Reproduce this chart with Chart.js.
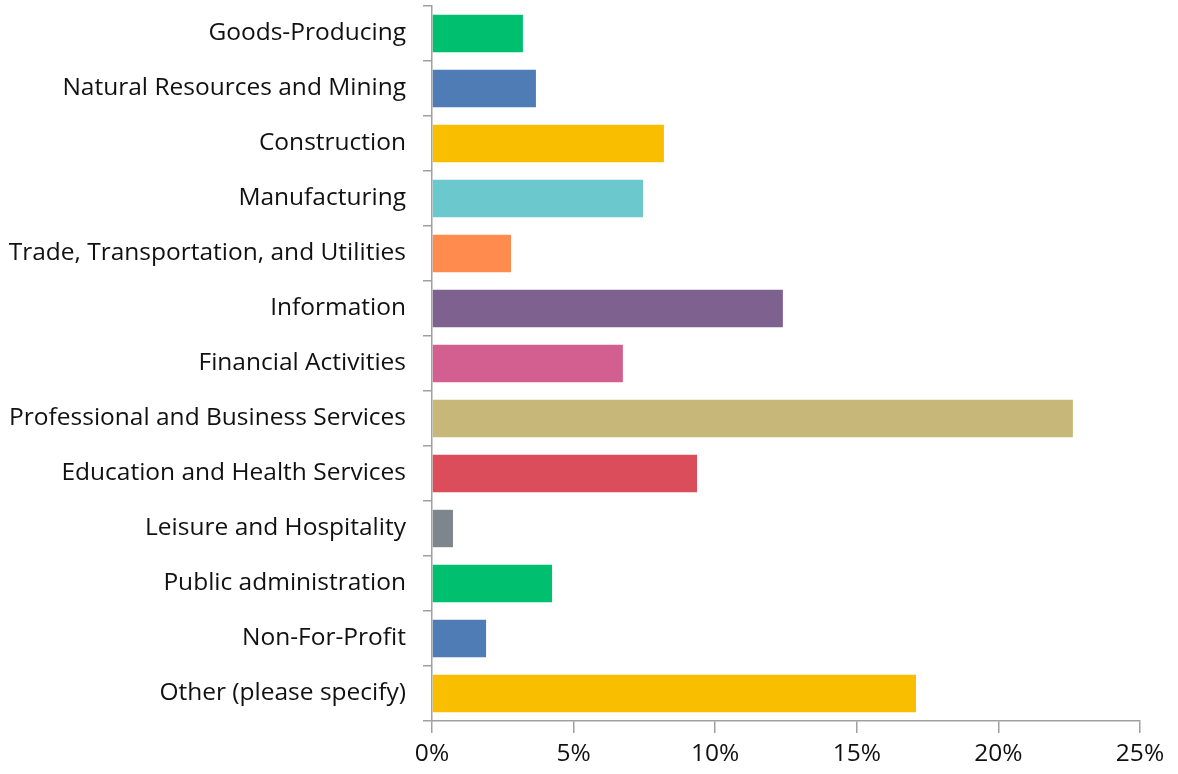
<!DOCTYPE html>
<html>
<head>
<meta charset="utf-8">
<script src="https://cdn.jsdelivr.net/npm/chart.js@4/dist/chart.umd.min.js"></script>
<style>
  html, body { margin: 0; padding: 0; background: #fff; }
  #wrap { width: 1178px; height: 774px; position: relative; }
</style>
</head>
<body>
<div id="wrap"><canvas id="chart"></canvas></div>
<script>
// categories, top to bottom
const industries = [
    'Goods-Producing',
    'Natural Resources and Mining',
    'Construction',
    'Manufacturing',
    'Trade, Transportation, and Utilities',
    'Information',
    'Financial Activities',
    'Professional and Business Services',
    'Education and Health Services',
    'Leisure and Hospitality',
    'Public administration',
    'Non-For-Profit',
    'Other (please specify)'
];

// share of responses, in percent
const shares = [3.21, 3.67, 8.19, 7.45, 2.79, 12.39, 6.74, 22.63, 9.36, 0.74, 4.24, 1.91, 17.09];

const barColors = [
    '#00bf6f', '#507cb6', '#f9be00', '#6bc8cd', '#ff8b4f', '#7f6190',
    '#d25f90', '#c7b879', '#dc4d5b', '#7d868c', '#00bf6f', '#507cb6', '#f9be00'
];

const xTicks = [0, 5, 10, 15, 20, 25];

const axisGrey = '#a0a0a0';
const textColor = '#111111';
const labelFont = { family: 'Open Sans', size: 24.5 };

const ctx = document.getElementById('chart').getContext('2d');
new Chart(ctx, {
    type: 'bar',
    data: {
        labels: industries,
        datasets: [{
            data: shares,
            backgroundColor: barColors,
            borderWidth: 0,
            categoryPercentage: 1,
            barPercentage: 0.68
        }]
    },
    options: {
        indexAxis: 'y',
        responsive: true,
        maintainAspectRatio: false,
        animation: false,
        layout: { padding: { top: 6, right: 38, left: 0, bottom: 0 } },
        plugins: {
            legend: { display: false },
            tooltip: { enabled: false }
        },
        scales: {
            x: {
                min: 0,
                max: 25,
                afterBuildTicks: axis => {
                    axis.ticks = xTicks.map(v => ({ value: v }));
                },
                afterFit: axis => { axis.height = 53; },
                grid: {
                    drawOnChartArea: false,
                    drawTicks: true,
                    tickLength: 12,
                    color: axisGrey,
                    lineWidth: 1.5
                },
                border: { display: true, color: axisGrey, width: 1.5 },
                ticks: {
                    color: textColor,
                    padding: 6,
                    maxRotation: 0,
                    font: labelFont,
                    callback: v => v + '%'
                }
            },
            y: {
                afterFit: axis => {
                    axis.width = 432;
                    // labels sit between the boundary ticks, no extra room needed
                    axis.paddingTop = 0;
                    axis.paddingBottom = 0;
                },
                grid: {
                    offset: true,
                    drawOnChartArea: false,
                    drawTicks: true,
                    tickLength: 9,
                    color: axisGrey,
                    lineWidth: 1.5
                },
                border: { display: true, color: axisGrey, width: 1.5 },
                ticks: {
                    color: textColor,
                    padding: 17,
                    autoSkip: false,
                    font: labelFont
                }
            }
        }
    }
});
</script>
</body>
</html>
